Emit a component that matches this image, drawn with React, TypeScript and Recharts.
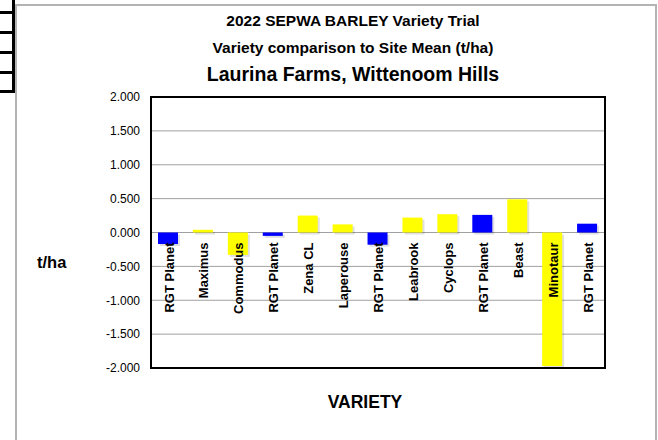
import React from "react";
import {
  Bar,
  BarChart,
  CartesianGrid,
  Cell,
  LabelList,
  ReferenceArea,
  XAxis,
  YAxis,
} from "recharts";

const varieties = [
  "RGT Planet",
  "Maximus",
  "Commodus",
  "RGT Planet",
  "Zena CL",
  "Laperouse",
  "RGT Planet",
  "Leabrook",
  "Cyclops",
  "RGT Planet",
  "Beast",
  "Minotaur",
  "RGT Planet",
];
const siteMeanDiff = [
  -0.17, 0.04, -0.33, -0.05, 0.25, 0.12, -0.18, 0.22, 0.27, 0.26, 0.49, -1.97,
  0.13,
];
const yTicks = [-2, -1.5, -1, -0.5, 0, 0.5, 1, 1.5, 2];

const data = varieties.map((name, i) => ({ name, value: siteMeanDiff[i] }));

const font = "'Liberation Sans', Arial, sans-serif";

const barColor = (name: string) => (name === "RGT Planet" ? "#0000ff" : "#ffff00");

function ShadowBar(props: any) {
  const { x, y, width, height, fill } = props;
  const top = height < 0 ? y + height : y;
  const h = Math.abs(height);
  return (
    <g>
      <rect x={x + 2} y={top + 2} width={width} height={h} fill="#000" opacity={0.12} />
      <rect x={x} y={top} width={width} height={h} fill={fill} />
    </g>
  );
}

function VarietyLabel(props: any) {
  const vb = props.viewBox || {};
  const x = props.x ?? vb.x;
  const y = props.y ?? vb.y;
  const width = props.width ?? vb.width;
  const height = props.height ?? vb.height;
  const v = siteMeanDiff[props.index];
  let zero = y + height;
  if (v < 0 && height >= 0) zero = y;
  const cx = x + width / 2 + 1;
  const ty = zero + 10;
  return (
    <text
      x={cx}
      y={ty}
      transform={`rotate(-90 ${cx} ${ty})`}
      textAnchor="end"
      dominantBaseline="central"
      fontFamily={font}
      fontWeight="bold"
      fontSize={13}
      fill="#000"
    >
      {props.value}
    </text>
  );
}

const line = (top: number): React.CSSProperties => ({
  position: "absolute",
  left: 0,
  top,
  width: 15,
  height: 3,
  background: "#000",
});

const title: React.CSSProperties = {
  position: "absolute",
  left: 0,
  width: 706,
  textAlign: "center",
  fontWeight: "bold",
};

export default function App() {
  return (
    <div
      style={{
        position: "absolute",
        left: 0,
        top: 0,
        width: 658,
        height: 440,
        overflow: "hidden",
        background: "#fff",
        fontFamily: font,
      }}
    >
      {/* spreadsheet cells at the left */}
      <div style={{ position: "absolute", left: 12, top: 0, width: 3, height: 93, background: "#000" }} />
      {[11, 31, 51, 71, 90].map((t) => (
        <div key={t} style={line(t)} />
      ))}
      {/* chart frame */}
      <div
        style={{
          position: "absolute",
          left: 15,
          top: 4,
          width: 638,
          height: 500,
          border: "2px solid #b4b4b4",
        }}
      />
      <div style={{ ...title, top: 11, fontSize: 15.5, lineHeight: "20px" }}>
        2022 SEPWA BARLEY Variety Trial
      </div>
      <div style={{ ...title, top: 38, fontSize: 15.5, lineHeight: "20px" }}>
        Variety comparison to Site Mean (t/ha)
      </div>
      <div style={{ ...title, top: 62, fontSize: 19.5, lineHeight: "24px" }}>
        Laurina Farms, Wittenoom Hills
      </div>
      <div style={{ position: "absolute", left: 37, top: 252, fontWeight: "bold", fontSize: 16.5, lineHeight: "20px" }}>
        t/ha
      </div>
      <div style={{ ...title, width: 730, top: 391, fontSize: 17.5, lineHeight: "22px" }}>
        VARIETY
      </div>
      <div style={{ position: "absolute", left: 0, top: 0 }}>
        <BarChart
          width={658}
          height={440}
          data={data}
          margin={{ top: 97, right: 53, left: 91, bottom: 72 }}
        >
          <CartesianGrid vertical={false} stroke="#a0a0a0" />
          <XAxis dataKey="name" hide />
          <YAxis
            width={60}
            domain={[-2, 2]}
            ticks={yTicks}
            interval={0}
            tickFormatter={(v: number) => v.toFixed(3)}
            tickLine={false}
            axisLine={false}
            tickMargin={5}
            tick={{ fontSize: 12, fill: "#000", fontFamily: font }}
          />
          <ReferenceArea y1={-2} y2={2} fill="none" stroke="#000" strokeWidth={2} ifOverflow="visible" />
          <Bar dataKey="value" barSize={20} isAnimationActive={false} shape={ShadowBar}>
            {data.map((d, i) => (
              <Cell key={i} fill={barColor(d.name)} />
            ))}
            <LabelList dataKey="name" content={VarietyLabel} />
          </Bar>
        </BarChart>
      </div>
    </div>
  );
}
